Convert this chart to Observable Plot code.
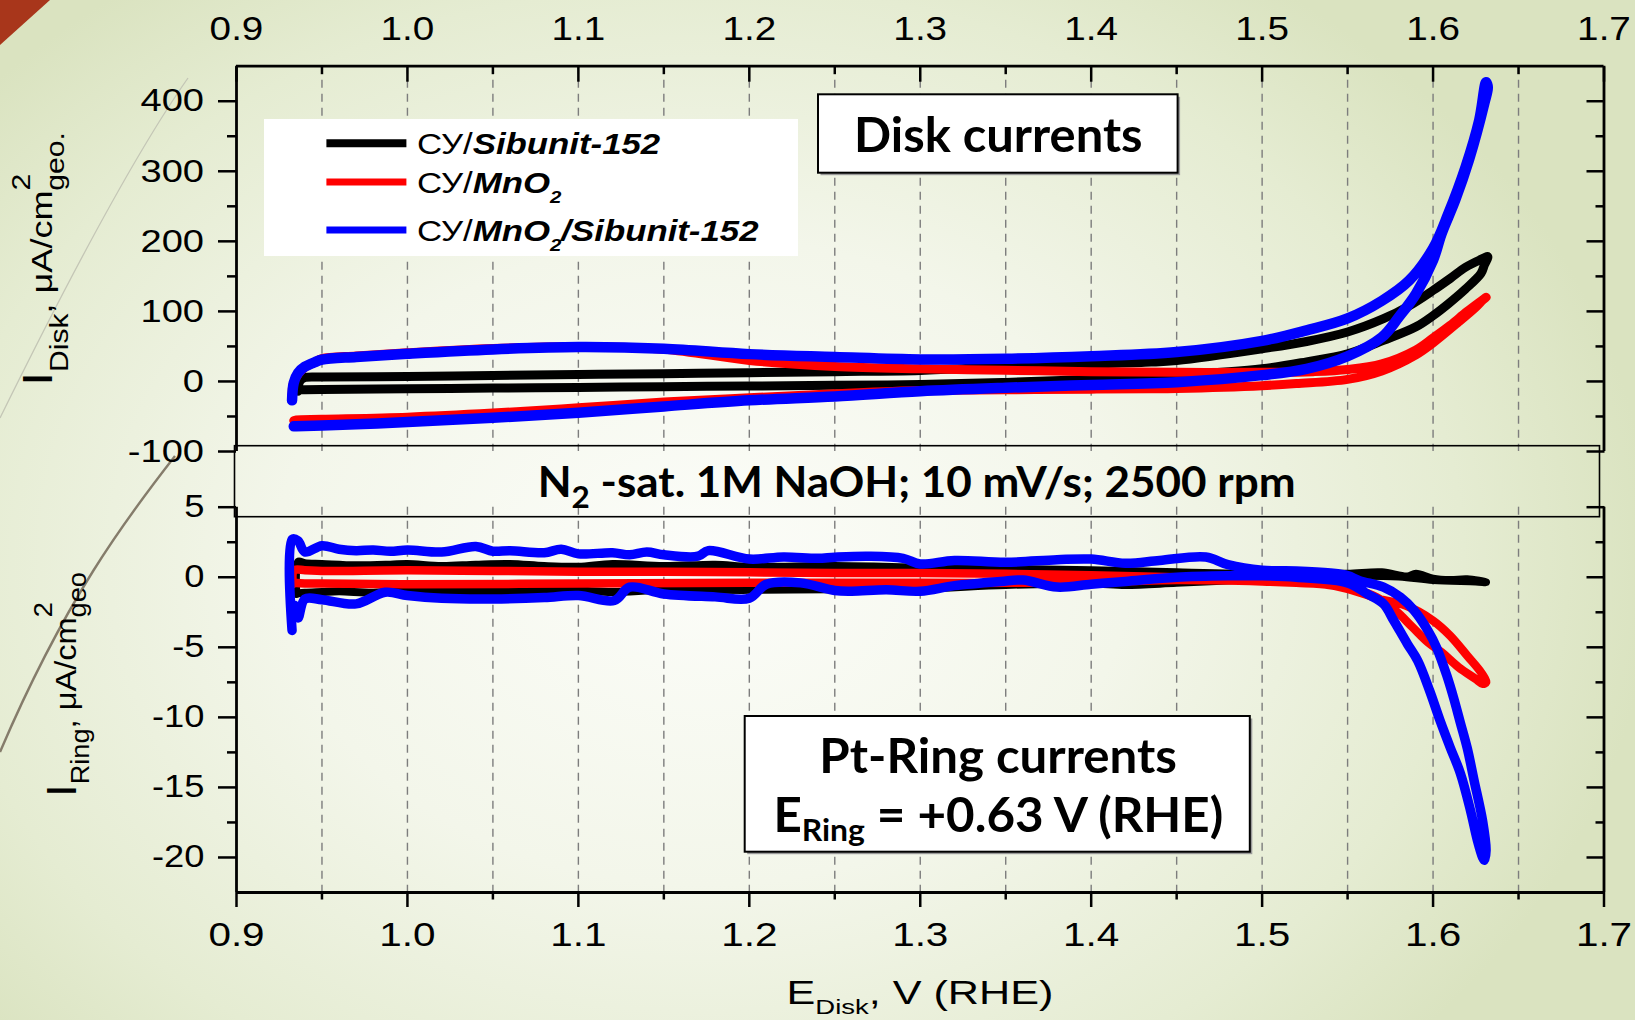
<!DOCTYPE html>
<html>
<head>
<meta charset="utf-8">
<script src="https://cdn.jsdelivr.net/npm/d3@7"></script>
<script src="https://cdn.jsdelivr.net/npm/@observablehq/plot@0.6"></script>
<style>
  html, body { margin: 0; padding: 0; }
  body {
    width: 1635px; height: 1020px; overflow: hidden;
    background: radial-gradient(ellipse 950px 720px at 43% 55%, #fcfdf9 0%, #f3f6ea 45%, #e5ecd2 80%, #dae3c0 100%);
  }
  #fig { position: relative; width: 1635px; height: 1020px; }
  #fig > svg { position: absolute; left: 0; top: 0; }
</style>
</head>
<body>
<div id="fig"></div>
<script>
// ---------------- data ----------------
const seriesNames = ["СУ/Sibunit-152", "СУ/MnO2", "СУ/MnO2/Sibunit-152"];

const xTicks = [0.9, 1.0, 1.1, 1.2, 1.3, 1.4, 1.5, 1.6, 1.7];
const xTickLabels = ["0.9", "1.0", "1.1", "1.2", "1.3", "1.4", "1.5", "1.6", "1.7"];
const xMinorTicks = [0.95, 1.05, 1.15, 1.25, 1.35, 1.45, 1.55, 1.65];
const xGridTicks = [0.95, 1.0, 1.05, 1.1, 1.15, 1.2, 1.25, 1.3, 1.35, 1.4, 1.45, 1.5, 1.55, 1.6, 1.65];

const diskTicks = [400, 300, 200, 100, 0, -100];
const diskTickLabels = ["400", "300", "200", "100", "0", "-100"];
const diskMinorTicks = [350, 250, 150, 50, -50];

const ringTicks = [5, 0, -5, -10, -15, -20];
const ringTickLabels = ["5", "0", "-5", "-10", "-15", "-20"];
const ringMinorTicks = [2.5, -2.5, -7.5, -12.5, -17.5];

// Disk currents, µA/cm² (forward scan followed by reverse scan)
const diskBlackE = [0.936, 0.937, 0.94, 0.95, 1.0, 1.05, 1.1, 1.15, 1.2, 1.25, 1.3, 1.35, 1.4, 1.435, 1.45, 1.5, 1.526, 1.55, 1.571, 1.586, 1.6, 1.61, 1.619, 1.627, 1.632,
  1.63, 1.628, 1.619, 1.609, 1.6, 1.59, 1.571, 1.55, 1.526, 1.5, 1.45, 1.4, 1.35, 1.3, 1.25, 1.2, 1.15, 1.1, 1.05, 1.0, 0.95, 0.94, 0.937];
const diskBlackI = [-14, 0, 5.5, 6.3, 7, 8.5, 10, 11, 12.5, 14, 15.7, 21, 25, 27.6, 30, 46.7, 57, 70.5, 89.5, 108, 130, 147, 163, 173, 178,
  166, 154, 132, 111, 94, 78, 58.6, 39.5, 28, 18, 8.6, 3, -1.5, -4.5, -5.5, -6.5, -7.5, -8.5, -9.5, -10.5, -11.5, -11.9, -12];

const diskRedE = [0.9325, 0.933, 0.936, 0.94, 0.946, 0.95, 0.97, 1.0, 1.05, 1.1, 1.15, 1.2, 1.25, 1.3, 1.35, 1.4, 1.45, 1.5, 1.53, 1.55, 1.57, 1.59, 1.6, 1.61, 1.62, 1.631,
  1.629, 1.625, 1.615, 1.6, 1.59, 1.57, 1.55, 1.52, 1.5, 1.45, 1.435, 1.4, 1.35, 1.3, 1.25, 1.2, 1.15, 1.1, 1.05, 1.0, 0.95, 0.935, 0.9335];
const diskRedI = [-20, -5, 10, 20, 28, 32.5, 36.5, 41, 47, 49.5, 46, 30, 21.4, 18, 16, 14, 13, 13, 14, 17, 25, 45, 62, 80, 100, 120,
  116, 106, 85, 55, 38, 15, 3, -3, -6, -10, -10.5, -11, -12, -12.9, -17.6, -23.3, -29.5, -37.6, -45.2, -51, -54, -55, -56];

const diskBlueE = [0.9325, 0.9335, 0.936, 0.94, 0.946, 0.95, 0.97, 1.0, 1.05, 1.1, 1.15, 1.2, 1.25, 1.3, 1.35, 1.4, 1.45, 1.5, 1.526, 1.55, 1.57, 1.586, 1.6, 1.609, 1.619, 1.627, 1.631,
  1.632, 1.63, 1.621, 1.613, 1.605, 1.6, 1.59, 1.58, 1.57, 1.55, 1.526, 1.5, 1.45, 1.4, 1.35, 1.3, 1.25, 1.2, 1.15, 1.1, 1.05, 1.0, 0.95, 0.935, 0.9335];
const diskBlueI = [-27, -2, 12, 21, 27.6, 31, 35, 39.5, 45.7, 49, 46.7, 39, 35, 31.5, 32.4, 36, 42, 58, 73, 90, 115, 144, 190, 240, 306, 373, 427,
  420, 397, 316, 259, 211, 173, 125, 92, 63, 36, 18, 9, -1, -5, -9, -14, -21.4, -27, -35.7, -44.8, -51.9, -58, -62.9, -64, -64];

// Pt-ring currents, µA/cm²
const ringBlackE = [0.935, 0.936, 0.94, 0.95, 0.97, 0.99, 1.0, 1.02, 1.04, 1.06, 1.08, 1.1, 1.12, 1.15, 1.18, 1.2, 1.25, 1.3, 1.35, 1.4, 1.45, 1.5, 1.53, 1.55, 1.57, 1.585, 1.59, 1.6, 1.61, 1.62, 1.631,
  1.625, 1.6, 1.58, 1.55, 1.52, 1.5, 1.45, 1.42, 1.4, 1.35, 1.3, 1.25, 1.2, 1.15, 1.12, 1.1, 1.08, 1.05, 1.02, 1.0, 0.98, 0.96, 0.95, 0.94, 0.936];
const ringBlackI = [-1.2, 1.1, 1.0, 0.95, 0.85, 0.9, 0.95, 0.8, 0.9, 0.95, 0.8, 0.75, 0.95, 0.8, 0.9, 0.75, 0.8, 0.7, 0.6, 0.5, 0.35, 0.25, 0.3, 0.25, 0.35, 0.05, 0.25, -0.1, -0.2, -0.15, -0.35,
  -0.3, -0.2, 0.05, 0.1, 0.0, -0.1, -0.4, -0.55, -0.45, -0.55, -0.8, -0.85, -0.9, -0.9, -1.05, -0.95, -0.9, -1.05, -1.0, -0.95, -1.1, -1.0, -1.05, -1.1, -1.15];

const ringRedE = [0.933, 0.9335, 0.94, 0.95, 1.0, 1.05, 1.1, 1.15, 1.2, 1.25, 1.3, 1.35, 1.4, 1.45, 1.5, 1.53, 1.55, 1.5685, 1.584, 1.6, 1.61, 1.62, 1.628, 1.631,
  1.629, 1.625, 1.615, 1.605, 1.597, 1.588, 1.578, 1.567, 1.555, 1.54, 1.52, 1.5, 1.45, 1.4, 1.35, 1.3, 1.2, 1.1, 1.0, 0.95, 0.94, 0.9335];
const ringRedI = [-0.5, 0.5, 0.5, 0.45, 0.5, 0.45, 0.4, 0.4, 0.35, 0.3, 0.3, 0.25, 0.15, 0.0, -0.2, -0.4, -0.83, -1.55, -2.02, -3.1, -4.17, -5.6, -6.78, -7.5,
  -7.6, -7.26, -6.43, -5.36, -4.64, -3.57, -2.38, -1.43, -0.9, -0.55, -0.4, -0.3, -0.2, -0.35, -0.4, -0.4, -0.4, -0.45, -0.5, -0.45, -0.45, -0.4];

const ringBlueE = [0.9325, 0.9325, 0.936, 0.94, 0.95, 0.96, 0.97, 0.98, 0.99, 1.0, 1.02, 1.04, 1.05, 1.06, 1.08, 1.09, 1.1, 1.12, 1.13, 1.14, 1.15, 1.17, 1.176, 1.2, 1.22, 1.24, 1.25, 1.27, 1.29, 1.3,
  1.32, 1.35, 1.38, 1.4, 1.42, 1.44, 1.467, 1.48, 1.5, 1.52, 1.54, 1.55, 1.557, 1.571, 1.581, 1.589, 1.597, 1.602, 1.608, 1.612, 1.616, 1.62, 1.624, 1.629, 1.631,
  1.63, 1.629, 1.626, 1.622, 1.616, 1.61, 1.604, 1.598, 1.591, 1.585, 1.577, 1.571, 1.5615, 1.55, 1.52, 1.5, 1.48, 1.45, 1.42, 1.4, 1.38, 1.36, 1.347, 1.32, 1.3,
  1.28, 1.26, 1.25, 1.23, 1.21, 1.2, 1.18, 1.15, 1.13, 1.121, 1.1, 1.08, 1.05, 1.02, 1.0, 0.987, 0.97, 0.95, 0.94, 0.936, 0.934];
const ringBlueI = [-3.8, 2.7, 2.6, 1.8, 2.25, 2.0, 1.9, 1.95, 1.85, 1.95, 1.8, 2.2, 1.86, 1.9, 1.75, 2.0, 1.67, 1.75, 1.6, 1.8, 1.6, 1.5, 1.9, 1.3, 1.45, 1.35, 1.43, 1.5, 1.35, 0.95,
  1.2, 1.07, 1.25, 1.3, 1.0, 1.2, 1.45, 0.9, 0.5, 0.45, 0.3, 0.12, -0.24, -0.71, -1.43, -2.38, -3.81, -5.0, -7.0, -8.6, -10.4, -12.2, -14.5, -17.4, -19.5,
  -20.2, -20, -18.8, -16.7, -14.0, -12.14, -10.2, -8.1, -5.95, -4.76, -3.09, -1.9, -1.19, -0.4, 0.0, 0.1, 0.1, 0.0, -0.3, -0.5, -0.7, -0.2, -0.3, -0.6, -1.0,
  -0.9, -1.0, -0.95, -0.4, -0.5, -1.5, -1.4, -1.19, -0.71, -1.66, -1.3, -1.45, -1.55, -1.5, -1.3, -1.07, -1.9, -1.6, -1.55, -2.9, -2.0];

// ---------------- styles / layout ----------------
const W = 1635, H = 1020;
const colors = ["#000000", "#ff0000", "#0000ff"];
const diskWidths = [9, 9, 10.5];
const ringWidths = [8, 8.5, 9.5];
const FONT = "'Liberation Sans', Arial, Helvetica, sans-serif";
const BOLDFONT = "Lato, 'Open Sans', 'Liberation Sans', sans-serif";

const rows = (name, E, I) => E.map((e, i) => ({series: name, E: e, I: I[i]}));
const diskRows = [
  ...rows(seriesNames[0], diskBlackE, diskBlackI),
  ...rows(seriesNames[1], diskRedE, diskRedI),
  ...rows(seriesNames[2], diskBlueE, diskBlueI)
];
const ringRows = [
  ...rows(seriesNames[0], ringBlackE, ringBlackI),
  ...rows(seriesNames[1], ringRedE, ringRedI),
  ...rows(seriesNames[2], ringBlueE, ringBlueI)
];

const fig = document.getElementById("fig");

// slide decorations (behind the chart)
const deco = d3.select(fig).append("svg").attr("width", W).attr("height", H);
deco.append("path").attr("d", "M0,0 L50,0 L0,45 Z").attr("fill", "#a8361b");
deco.append("path").attr("d", "M188,78 C150,132 95,225 0,418").attr("fill", "none").attr("stroke", "#c4c6b6").attr("stroke-width", 1.3);
deco.append("path").attr("d", "M175,456 C125,520 65,600 0,752").attr("fill", "none").attr("stroke", "#857c6b").attr("stroke-width", 2.4);

const plotStyle = {fontFamily: FONT, color: "#000", background: "transparent", overflow: "visible"};
const fmt = (ticks, labels) => d => labels[ticks.indexOf(d)];

const upper = Plot.plot({
  width: W, height: H,
  marginLeft: 236, marginRight: 31.5, marginTop: 65.7, marginBottom: 569,
  x: {domain: [0.9, 1.7], label: null},
  y: {domain: [-100, 450], label: null},
  style: plotStyle,
  marks: [
    Plot.ruleX(xGridTicks, {stroke: "#7d7d7d", strokeWidth: 1.4, strokeDasharray: "8,6"}),
    ...seriesNames.map((s, k) => Plot.line(diskRows.filter(d => d.series === s),
      {x: "E", y: "I", curve: "catmull-rom", stroke: colors[k], strokeWidth: diskWidths[k], strokeLinejoin: "round", strokeLinecap: "round"})),
    Plot.ruleX([0.9, 1.7], {stroke: "#000", strokeWidth: 2.8}),
    Plot.ruleY([450], {stroke: "#000", strokeWidth: 2.8}),
    Plot.axisY({anchor: "left", ticks: diskTicks, tickFormat: fmt(diskTicks, diskTickLabels), tickSize: 18, tickPadding: 14.5, strokeWidth: 2.5, fontSize: 32, label: null}),
    Plot.axisY({anchor: "left", ticks: diskMinorTicks, tickSize: 9, strokeWidth: 2.5, fill: "none", label: null}),
    Plot.axisY({anchor: "right", ticks: diskTicks, tickSize: 18, dx: -18, strokeWidth: 2.5, fill: "none", label: null}),
    Plot.axisY({anchor: "right", ticks: diskMinorTicks, tickSize: 9, dx: -9, strokeWidth: 2.5, fill: "none", label: null}),
    Plot.axisX({anchor: "top", ticks: xTicks, tickFormat: fmt(xTicks, xTickLabels), tickSize: 0, tickPadding: 25.7, fontSize: 32.5, label: null}),
    Plot.axisX({anchor: "top", ticks: xTicks, tickSize: 15, dy: 15, strokeWidth: 2.5, fill: "none", label: null}),
    Plot.axisX({anchor: "top", ticks: xMinorTicks, tickSize: 7.5, dy: 7.5, strokeWidth: 2.5, fill: "none", label: null})
  ]
});
fig.appendChild(upper);

const lower = Plot.plot({
  width: W, height: H,
  marginLeft: 236, marginRight: 31.5, marginTop: 506.7, marginBottom: 128,
  x: {domain: [0.9, 1.7], label: null},
  y: {domain: [-22.5, 5], label: null},
  style: plotStyle,
  marks: [
    Plot.ruleX(xGridTicks, {stroke: "#7d7d7d", strokeWidth: 1.4, strokeDasharray: "8,6"}),
    ...seriesNames.map((s, k) => Plot.line(ringRows.filter(d => d.series === s),
      {x: "E", y: "I", curve: "catmull-rom", stroke: colors[k], strokeWidth: ringWidths[k], strokeLinejoin: "round", strokeLinecap: "round"})),
    Plot.ruleX([0.9, 1.7], {stroke: "#000", strokeWidth: 2.8}),
    Plot.ruleY([-22.5], {stroke: "#000", strokeWidth: 2.8}),
    Plot.axisY({anchor: "left", ticks: ringTicks, tickFormat: fmt(ringTicks, ringTickLabels), tickSize: 18, tickPadding: 14, strokeWidth: 2.5, fontSize: 30.5, label: null}),
    Plot.axisY({anchor: "left", ticks: ringMinorTicks, tickSize: 9, strokeWidth: 2.5, fill: "none", label: null}),
    Plot.axisY({anchor: "right", ticks: ringTicks, tickSize: 18, dx: -18, strokeWidth: 2.5, fill: "none", label: null}),
    Plot.axisY({anchor: "right", ticks: ringMinorTicks, tickSize: 9, dx: -9, strokeWidth: 2.5, fill: "none", label: null}),
    Plot.axisX({anchor: "bottom", ticks: xTicks, tickFormat: fmt(xTicks, xTickLabels), tickSize: 15, tickPadding: 14.7, strokeWidth: 2.5, fontSize: 34, label: null}),
    Plot.axisX({anchor: "bottom", ticks: xMinorTicks, tickSize: 7.5, strokeWidth: 2.5, fill: "none", label: null})
  ]
});
fig.appendChild(lower);

// stretch tick labels horizontally (the original figure is widened)
function stretchTicks(svg, sx) {
  svg.querySelectorAll('g[aria-label$="tick label"] text').forEach(t => {
    const x = parseFloat(t.getAttribute("x")) || 0;
    const tr = t.getAttribute("transform") || "";
    t.setAttribute("transform", `${tr} translate(${x},0) scale(${sx},1) translate(${-x},0)`);
  });
}
stretchTicks(upper, 1.19);
stretchTicks(lower, 1.19);

// ---------------- annotations ----------------
const ann = d3.select(fig).append("svg").attr("width", W).attr("height", H);

function rich(parent, parts, family) {
  const t = parent.append("text").attr("font-family", family).attr("fill", "#000");
  parts.forEach(p => {
    const s = t.append("tspan").text(p.t).attr("font-size", p.size);
    if (p.bold) s.attr("font-weight", "bold");
    if (p.italic) s.attr("font-style", "italic");
    if (p.dx) s.attr("dx", p.dx);
    if (p.dy) s.attr("dy", p.dy);
  });
  return t;
}
function place(t, {x, y, width, sx, anchor = "start", rotate = 0}) {
  const bb = t.node().getBBox();
  const s = sx != null ? sx : width / bb.width;
  const ox = anchor === "middle" ? bb.x + bb.width / 2 : anchor === "end" ? bb.x + bb.width : bb.x;
  t.attr("transform", `translate(${x},${y}) rotate(${rotate}) scale(${s},1) translate(${-ox},0)`);
  return s;
}
function box(x, y, w, h, fill, sw, shadow) {
  if (shadow) ann.append("rect").attr("x", x + 2.5).attr("y", y + 2.5).attr("width", w).attr("height", h).attr("fill", "#9a9a9a");
  ann.append("rect").attr("x", x).attr("y", y).attr("width", w).attr("height", h)
    .attr("fill", fill).attr("stroke", "#000").attr("stroke-width", sw);
}

// legend
ann.append("rect").attr("x", 264).attr("y", 119).attr("width", 534).attr("height", 137).attr("fill", "#ffffff");
const legendY = [143.3, 182, 230];
const legendBase = [154, 193, 241];
const legendLineW = [8, 7, 7];
function legendParts(name) {
  const pre = name.slice(0, 3), rest = name.slice(3);
  const parts = [{t: pre, size: 29}];
  const m = rest.indexOf("O2");
  if (m < 0) parts.push({t: rest, size: 29, bold: true, italic: true});
  else {
    parts.push({t: rest.slice(0, m + 1), size: 29, bold: true, italic: true});
    parts.push({t: "2", size: 17, bold: true, italic: true, dy: 10});
    if (rest.slice(m + 2)) parts.push({t: rest.slice(m + 2), size: 29, bold: true, italic: true, dy: -10});
  }
  return parts;
}
seriesNames.forEach((name, k) => {
  ann.append("line").attr("x1", 326.4).attr("x2", 406.4).attr("y1", legendY[k]).attr("y2", legendY[k])
    .attr("stroke", colors[k]).attr("stroke-width", legendLineW[k]);
  const t = rich(ann, legendParts(name), FONT);
  place(t, {x: 417, y: legendBase[k], sx: 1.2});
});

// "Disk currents" box
box(818, 94.3, 359.6, 78.4, "#ffffff", 2, true);
place(rich(ann, [{t: "Disk currents", size: 48, bold: true}], BOLDFONT), {x: 998.3, y: 151.7, width: 288.6, anchor: "middle"});

// conditions banner
box(234.5, 445.7, 1365, 71, "none", 1.6, false);
place(rich(ann, [
  {t: "N", size: 42, bold: true},
  {t: "2", size: 30, bold: true, dy: 11},
  {t: " -sat. 1M NaOH; 10 mV/s; 2500 rpm", size: 42, bold: true, dy: -11}
], BOLDFONT), {x: 916.7, y: 497, width: 758, anchor: "middle"});

// "Pt-Ring currents" box
box(744.7, 716, 505.1, 135.7, "#ffffff", 2, true);
place(rich(ann, [{t: "Pt-Ring currents", size: 48, bold: true}], BOLDFONT), {x: 998.2, y: 773.3, width: 357.7, anchor: "middle"});
place(rich(ann, [
  {t: "E", size: 48, bold: true},
  {t: "Ring", size: 31, bold: true, dy: 9},
  {t: " = +0.63 V (RHE)", size: 48, bold: true, dy: -9}
], BOLDFONT), {x: 998.4, y: 831.7, width: 450, anchor: "middle"});

// axis titles
place(rich(ann, [
  {t: "I", size: 42},
  {t: "Disk", size: 25, dy: 16},
  {t: ", μA/cm", size: 30, dy: -16},
  {t: "2", size: 25, dy: -22},
  {t: "geo.", size: 25, dx: -14, dy: 34}
], FONT), {x: 52.4, y: 386, width: 254, rotate: -90});

place(rich(ann, [
  {t: "I", size: 42},
  {t: "Ring", size: 25, dy: 13},
  {t: ", μA/cm", size: 30, dy: -13},
  {t: "2", size: 25, dy: -24},
  {t: "geo", size: 25, dx: -14, dy: 34}
], FONT), {x: 76, y: 797, width: 225, rotate: -90});

place(rich(ann, [
  {t: "E", size: 33},
  {t: "Disk", size: 21, dy: 10},
  {t: ", V (RHE)", size: 33, dy: -10}
], FONT), {x: 786.5, y: 1003.5, width: 267});
</script>
</body>
</html>
